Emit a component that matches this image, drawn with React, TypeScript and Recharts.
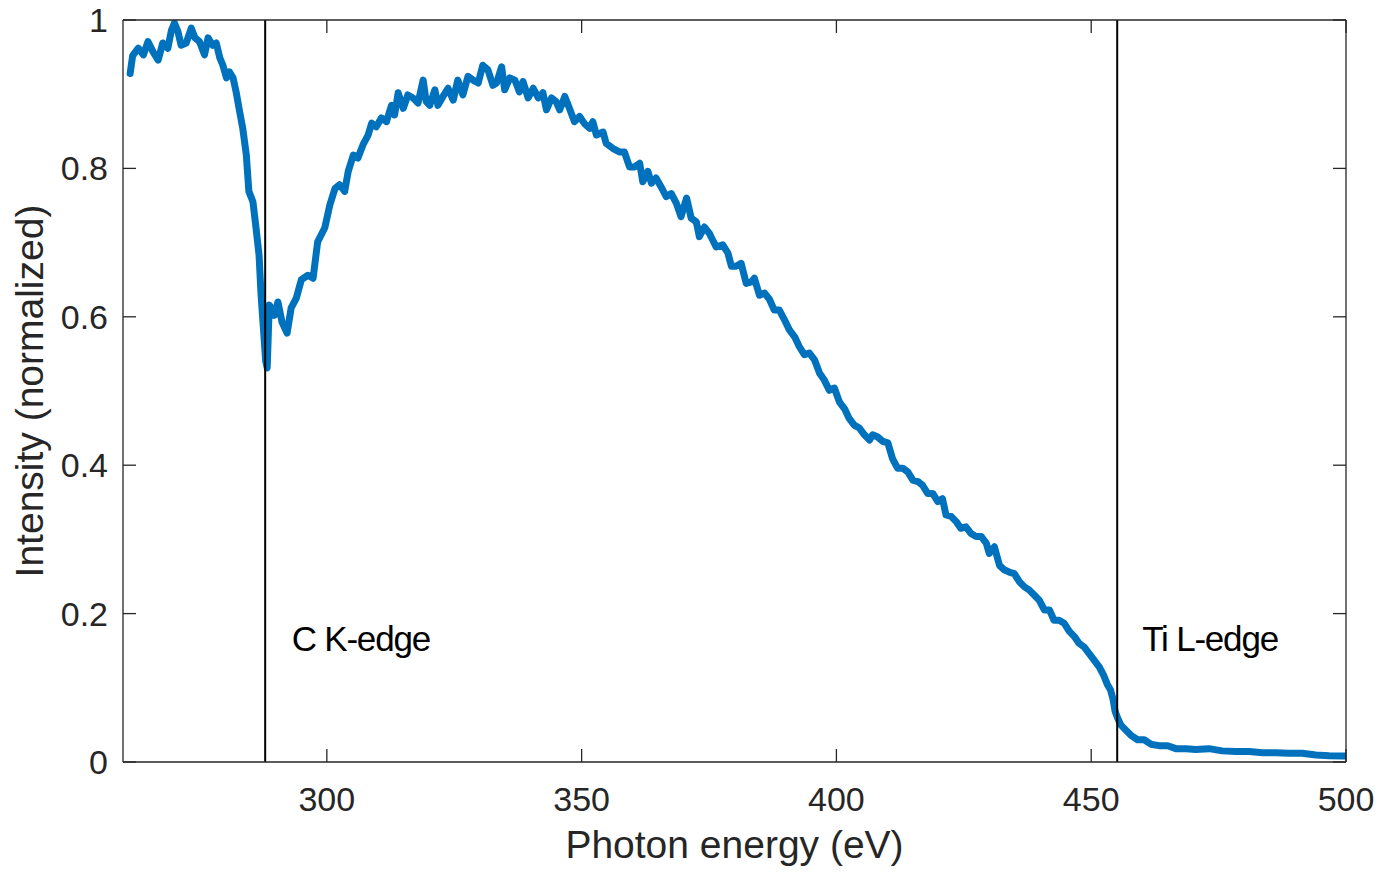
import React from 'react';
import { LineChart, Line, XAxis, YAxis, ReferenceLine, ReferenceDot } from 'recharts';

// Photon energy (eV)
const energy = [
  261.4, 261.9, 263.0, 264.0, 264.9, 265.9, 266.9, 267.8, 268.8, 269.5,
  270.1, 270.8, 271.4, 272.4, 273.4, 274.1, 275.0, 276.0, 276.7, 277.6,
  278.3, 279.0, 279.6, 280.3, 280.9, 281.6, 282.2, 282.9, 283.5, 284.2,
  284.7, 285.5, 286.1, 286.7, 287.1, 287.6, 288.0, 288.3, 288.7, 289.1,
  289.7, 290.4, 291.2, 292.2, 293.0, 294.0, 295.0, 296.3, 297.3, 298.2,
  299.6, 300.6, 301.6, 302.5, 303.5, 304.2, 305.2, 306.1, 307.1, 308.1,
  308.8, 309.7, 310.7, 311.7, 312.7, 313.3, 314.0, 315.0, 315.9, 316.9,
  317.9, 318.9, 319.5, 320.2, 321.2, 321.8, 322.8, 323.8, 324.8, 325.7,
  326.7, 327.7, 328.7, 329.7, 330.6, 331.6, 332.6, 333.3, 334.3, 334.9,
  335.9, 336.9, 337.8, 338.5, 339.5, 340.5, 341.5, 342.4, 343.1, 344.1,
  345.0, 345.7, 346.7, 347.6, 348.6, 349.6, 350.6, 351.6, 352.2, 352.9,
  354.2, 354.8, 356.1, 357.5, 358.4, 359.4, 360.4, 361.4, 362.0, 363.0,
  363.7, 364.6, 365.6, 366.6, 367.6, 368.6, 369.5, 370.6, 371.5, 372.5,
  373.1, 374.1, 375.1, 376.4, 377.7, 378.7, 379.4, 380.3, 381.3, 382.3,
  383.3, 383.9, 384.9, 385.9, 386.9, 387.8, 388.8, 389.8, 390.8, 391.8,
  392.7, 393.7, 394.7, 395.7, 396.7, 397.6, 398.6, 399.6, 400.6, 401.6,
  402.5, 403.5, 404.5, 405.5, 406.5, 407.1, 408.1, 409.1, 410.1, 411.0,
  412.0, 413.0, 414.0, 415.0, 416.0, 416.9, 417.9, 418.9, 419.9, 420.8,
  421.5, 422.5, 423.5, 424.4, 425.4, 426.4, 427.4, 428.4, 429.4, 430.0,
  431.0, 432.0, 432.9, 433.9, 434.9, 435.9, 436.9, 437.8, 438.8, 439.8,
  440.8, 441.8, 442.7, 443.7, 444.7, 445.7, 446.7, 447.6, 448.6, 449.6,
  450.6, 451.6, 452.5, 453.2, 453.8, 454.3, 454.7, 455.2, 455.8, 456.8,
  457.8, 459.1, 460.4, 461.7, 463.3, 465.0, 466.6, 468.6, 470.5, 473.1,
  475.7, 478.4, 481.0, 483.6, 486.2, 488.8, 491.4, 494.1, 496.7, 499.3,
  500.0,
];

// Intensity (normalized)
const intensity = [
  0.928, 0.952, 0.962, 0.953, 0.971, 0.957, 0.946, 0.969, 0.962, 0.986,
  0.996, 0.984, 0.966, 0.969, 0.989, 0.976, 0.971, 0.953, 0.976, 0.966,
  0.969, 0.949, 0.939, 0.922, 0.930, 0.922, 0.903, 0.876, 0.854, 0.818,
  0.769, 0.755, 0.720, 0.683, 0.629, 0.580, 0.540, 0.531, 0.616, 0.612,
  0.602, 0.620, 0.593, 0.578, 0.612, 0.625, 0.650, 0.656, 0.652, 0.701,
  0.720, 0.751, 0.773, 0.778, 0.769, 0.796, 0.818, 0.814, 0.832, 0.845,
  0.861, 0.856, 0.868, 0.863, 0.885, 0.872, 0.902, 0.881, 0.899, 0.895,
  0.888, 0.919, 0.890, 0.885, 0.906, 0.885, 0.897, 0.908, 0.892, 0.919,
  0.899, 0.924, 0.919, 0.915, 0.939, 0.933, 0.912, 0.915, 0.937, 0.906,
  0.922, 0.919, 0.903, 0.917, 0.895, 0.908, 0.895, 0.902, 0.879, 0.895,
  0.890, 0.879, 0.897, 0.881, 0.863, 0.870, 0.860, 0.854, 0.863, 0.845,
  0.849, 0.834, 0.827, 0.822, 0.822, 0.802, 0.802, 0.807, 0.782, 0.796,
  0.780, 0.787, 0.775, 0.762, 0.766, 0.753, 0.735, 0.760, 0.733, 0.728,
  0.708, 0.721, 0.712, 0.694, 0.697, 0.686, 0.668, 0.668, 0.672, 0.645,
  0.647, 0.652, 0.629, 0.632, 0.623, 0.609, 0.609, 0.596, 0.582, 0.573,
  0.560, 0.549, 0.551, 0.542, 0.524, 0.515, 0.501, 0.504, 0.485, 0.476,
  0.463, 0.454, 0.450, 0.441, 0.434, 0.441, 0.438, 0.432, 0.430, 0.409,
  0.396, 0.396, 0.391, 0.380, 0.378, 0.373, 0.362, 0.362, 0.351, 0.355,
  0.333, 0.331, 0.324, 0.315, 0.317, 0.308, 0.304, 0.304, 0.295, 0.281,
  0.290, 0.265, 0.259, 0.256, 0.254, 0.243, 0.236, 0.232, 0.225, 0.218,
  0.205, 0.205, 0.191, 0.191, 0.187, 0.176, 0.169, 0.160, 0.155, 0.146,
  0.137, 0.128, 0.116, 0.104, 0.097, 0.084, 0.068, 0.059, 0.050, 0.043,
  0.036, 0.030, 0.030, 0.024, 0.022, 0.022, 0.018, 0.018, 0.017, 0.018,
  0.015, 0.014, 0.014, 0.0125, 0.0125, 0.0117, 0.0117, 0.0094, 0.0085, 0.008,
  0.008,
];

const xDomain = [260, 500];
const yDomain = [0, 1];
const xTicks = [300, 350, 400, 450, 500];
const yTicks = [0, 0.2, 0.4, 0.6, 0.8, 1];
const yTickLabels = ['0', '0.2', '0.4', '0.6', '0.8', '1'];

const edgeEnergies = [287.9, 455.1];
const edgeNames = ['C K-edge', 'Ti L-edge'];
const edgeLabelEnergies = [293.1, 460.0];
const edgeLabelLevel = 0.149;

const data = energy.map((e, i) => ({ e, v: intensity[i] }));

const AXIS = '#262626';
const FONT = '"Liberation Sans", Arial, Helvetica, sans-serif';
const X_MARGIN = 25;
const Y_MARGIN = 15;
// inward tick length (~13px) expressed in data units of each axis
const X_TICK_LEN = 2.55;
const Y_TICK_LEN = 0.0175;

const XTick = (props: any) => {
  const { x, y, payload } = props;
  return (
    <text x={x} y={y} dy="0.71em" textAnchor="middle" fontSize={34} fill={AXIS} fontFamily={FONT}>
      {payload.value}
    </text>
  );
};

const YTick = (props: any) => {
  const { x, y, payload } = props;
  const idx = yTicks.indexOf(payload.value);
  return (
    <text x={x} y={y} dy="0.355em" textAnchor="end" fontSize={34} fill={AXIS} fontFamily={FONT}>
      {idx >= 0 ? yTickLabels[idx] : payload.value}
    </text>
  );
};

const makeEdgeLabel = (name: string) => (p: any) => (
  <text
    x={p.cx}
    y={p.cy}
    fontSize={35}
    letterSpacing={-1.2}
    fill="#000"
    fontFamily={FONT}
    textAnchor="start"
  >
    {name}
  </text>
);

export default function App() {
  const tickSegments: any[] = [];
  xTicks.forEach((t) => {
    tickSegments.push([{ x: t, y: yDomain[0] }, { x: t, y: yDomain[0] + Y_TICK_LEN }]);
    tickSegments.push([{ x: t, y: yDomain[1] }, { x: t, y: yDomain[1] - Y_TICK_LEN }]);
  });
  yTicks.forEach((t) => {
    tickSegments.push([{ x: xDomain[0], y: t }, { x: xDomain[0] + X_TICK_LEN, y: t }]);
    tickSegments.push([{ x: xDomain[1], y: t }, { x: xDomain[1] - X_TICK_LEN, y: t }]);
  });

  return (
    <div style={{ marginTop: -8 }}>
      <LineChart
        width={1379}
        height={873}
        data={data}
        margin={{ top: 20, right: 41, left: 0, bottom: 0 }}
        style={{ background: '#fff', overflow: 'visible' }}
      >
        <XAxis
          xAxisId="main"
          dataKey="e"
          type="number"
          domain={xDomain}
          allowDataOverflow
          ticks={xTicks}
          interval={0}
          height={111}
          tickSize={0}
          tickMargin={X_MARGIN}
          tickLine={false}
          tick={XTick}
          axisLine={{ stroke: AXIS, strokeWidth: 1.3 }}
          label={{
            value: 'Photon energy (eV)',
            position: 'insideBottom',
            offset: 15,
            fontSize: 39,
            fill: AXIS,
            style: { fontFamily: FONT, fontSize: 39, fill: AXIS },
          }}
        />
        <XAxis
          xAxisId="top"
          orientation="top"
          type="number"
          domain={xDomain}
          allowDataOverflow
          ticks={xTicks}
          mirror
          tick={false}
          tickLine={false}
          axisLine={{ stroke: AXIS, strokeWidth: 1.3 }}
        />
        <YAxis
          yAxisId="main"
          type="number"
          domain={yDomain}
          allowDataOverflow
          ticks={yTicks}
          interval={0}
          width={115}
          tickSize={0}
          tickMargin={Y_MARGIN}
          tickLine={false}
          tick={YTick}
          axisLine={{ stroke: AXIS, strokeWidth: 1.3 }}
          label={{
            value: 'Intensity (normalized)',
            angle: -90,
            position: 'insideLeft',
            offset: 21,
            fontSize: 39,
            fill: AXIS,
            style: { fontFamily: FONT, fontSize: 39, fill: AXIS, textAnchor: 'middle' },
          }}
        />
        <YAxis
          yAxisId="right"
          orientation="right"
          type="number"
          domain={yDomain}
          allowDataOverflow
          ticks={yTicks}
          mirror
          tick={false}
          tickLine={false}
          axisLine={{ stroke: AXIS, strokeWidth: 1.3 }}
        />
        <Line
          xAxisId="main"
          yAxisId="main"
          type="linear"
          dataKey="v"
          stroke="#0072BD"
          strokeWidth={7}
          strokeLinejoin="round"
          strokeLinecap="round"
          dot={false}
          activeDot={false}
          isAnimationActive={false}
        />
        {tickSegments.map((seg, i) => (
          <ReferenceLine
            key={'tick' + i}
            xAxisId="main"
            yAxisId="main"
            segment={seg}
            stroke={AXIS}
            strokeWidth={1.3}
            ifOverflow="visible"
          />
        ))}
        {edgeEnergies.map((e, i) => (
          <ReferenceLine
            key={'edge' + i}
            xAxisId="main"
            yAxisId="main"
            x={e}
            stroke="#000"
            strokeWidth={2}
          />
        ))}
        {edgeNames.map((name, i) => (
          <ReferenceDot
            key={'lab' + i}
            xAxisId="main"
            yAxisId="main"
            x={edgeLabelEnergies[i]}
            y={edgeLabelLevel}
            r={0}
            shape={makeEdgeLabel(name)}
          />
        ))}
      </LineChart>
    </div>
  );
}
